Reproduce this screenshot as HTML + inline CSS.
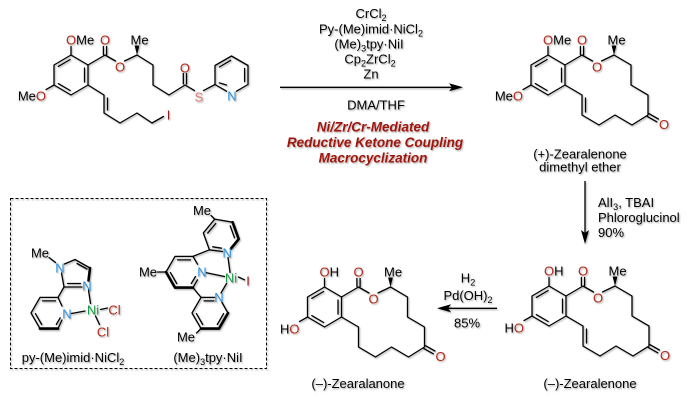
<!DOCTYPE html>
<html>
<head>
<meta charset="utf-8">
<style>
html,body{margin:0;padding:0;background:#fff;}
svg{display:block;}
text{font-family:"Liberation Sans",Arial,sans-serif;font-size:13px;fill:#000;}
.r{fill:#b02a1a;}
.b{fill:#2f8fd8;}
.g{fill:#1f9a4a;}
.s{fill:#de7a78;}
.i{fill:#8c1f1f;}
</style>
</head>
<body>
<svg width="696" height="406" viewBox="0 0 696 406" xmlns="http://www.w3.org/2000/svg">
<defs>
<filter id="sh" x="-2%" y="-2%" width="104%" height="104%">
<feDropShadow dx="1" dy="1.2" stdDeviation="0.7" flood-color="#000" flood-opacity="0.32"/>
</filter>
</defs>
<rect width="696" height="406" fill="#fff"/>
<g filter="url(#sh)">

<!-- ============ STARTING MATERIAL ============ -->
<g transform="translate(71,75)">
 <g stroke="#000" stroke-width="1.3" fill="none" stroke-linecap="round" stroke-linejoin="round">
  <path d="M0,-20 L17,-10 L17,10 L0,20 L-17,10 L-17,-10 Z"/>
  <path d="M13.5,-7 L13.5,7 M-0.85,15.5 L-12.7,8.6 M-12.7,-8.6 L-0.85,-15.5"/>
  <path d="M0,-20 L0,-28.5 M-17,10 L-25,14.6"/>
  <path d="M17,-10 L34,-20 M32.4,-20.5 L32.4,-28.5 M35.6,-20.5 L35.6,-28.5 M34,-20 L44.5,-14 M53.5,-14 L66,-20"/>
  <path d="M66,-20 L82,-10 L82,10 L98,20 L114,10"/>
  <path d="M112.3,9 L112.3,-1.5 M115.5,9 L115.5,-1.5"/>
  <path d="M114,10 L123.5,15.6 M132.5,15.6 L144,9.5"/>
  <path d="M155.5,16.2 L144,9.5 L144,-9.5 L160.5,-19 L177,-9.5 L177,9.5 L165.5,16.2"/>
  <path d="M173.6,-6.6 L173.6,6.6 M148.4,-8 L159.7,-14.7 M148.3,7.9 L155.5,10"/>
  <path d="M17,10 L33,20 L33,38 L49,48 L66,38 L81,48 L92.5,41.5"/>
  <path d="M36.5,23 L36.5,35"/>
 </g>
 <polygon points="66,-20 63.6,-29.5 68.4,-29.5" fill="#000"/>
 <text x="-5" y="-30.5"><tspan class="r">O</tspan>Me</text>
 <text x="34" y="-30.5" text-anchor="middle" class="r">O</text>
 <text x="49" y="-3.3" text-anchor="middle" class="r">O</text>
 <text x="59.5" y="-30.5">Me</text>
 <text x="113.9" y="-2.5" text-anchor="middle" class="r">O</text>
 <text x="128" y="26.6" text-anchor="middle" class="s">S</text>
 <text x="161" y="25.6" text-anchor="middle" class="b">N</text>
 <text x="97.5" y="44.3" text-anchor="middle" class="i">I</text>
 <text x="-25" y="25.6" text-anchor="end">Me<tspan class="r">O</tspan></text>
</g>

<!-- ============ ARROWS ============ -->
<g stroke="#000" stroke-width="1.3" fill="none">
 <path d="M280,87.3 L452,87.3"/>
 <path d="M585,181 L585,233"/>
 <path d="M497,308.3 L448,308.3"/>
</g>
<polygon points="463,87.3 449,83.3 452,87.3 449,91.3" fill="#000"/>
<polygon points="585,244 581,230 585,233 589,230" fill="#000"/>
<polygon points="437,308.3 451,304.3 448,308.3 451,312.3" fill="#000"/>

<text x="371" y="18" text-anchor="middle">CrCl<tspan font-size="9" dy="3">2</tspan></text>
<text x="371" y="33.5" text-anchor="middle">Py-(Me)imid·NiCl<tspan font-size="9" dy="3">2</tspan></text>
<text x="369" y="48.5" text-anchor="middle">(Me)<tspan font-size="9" dy="3">3</tspan><tspan dy="-3">tpy·NiI</tspan></text>
<text x="370" y="63.5" text-anchor="middle">Cp<tspan font-size="9" dy="3">2</tspan><tspan dy="-3">ZrCl</tspan><tspan font-size="9" dy="3">2</tspan></text>
<text x="371" y="78.3" text-anchor="middle">Zn</text>
<text x="376" y="109.5" text-anchor="middle">DMA/THF</text>
<text x="373" y="131.5" text-anchor="middle" style="fill:#a0150f;font-weight:bold;font-style:italic;font-size:13.5px;">Ni/Zr/Cr-Mediated</text>
<text x="375" y="147" text-anchor="middle" style="fill:#a0150f;font-weight:bold;font-style:italic;font-size:13.5px;">Reductive Ketone Coupling</text>
<text x="373" y="162.5" text-anchor="middle" style="fill:#a0150f;font-weight:bold;font-style:italic;font-size:13.5px;">Macrocyclization</text>

<!-- ============ PRODUCT A : dimethyl ether ============ -->
<g transform="translate(548,75)">
 <g stroke="#000" stroke-width="1.3" fill="none" stroke-linecap="round" stroke-linejoin="round">
  <path d="M0,-20 L17,-10 L17,10 L0,20 L-17,10 L-17,-10 Z"/>
  <path d="M13.5,-7 L13.5,7 M-0.85,15.5 L-12.7,8.6 M-12.7,-8.6 L-0.85,-15.5"/>
  <path d="M0,-20 L0,-28.5 M-17,10 L-25,14.6"/>
  <path d="M17,-10 L34,-20 M32.4,-20.5 L32.4,-28.5 M35.6,-20.5 L35.6,-28.5 M34,-20 L44.5,-14 M53.5,-14 L66,-20"/>
  <path d="M66,-20 L83,-10 L83,10 L100,20 L100,40 L84,50 L67,40 L51,50 L34,40 L34,20 L17,10"/>
  <path d="M37.5,23 L37.5,37"/>
  <path d="M100.8,38.6 L110.4,44 M99.2,41.4 L108.8,46.8"/>
 </g>
 <polygon points="66,-20 63.6,-29.5 68.4,-29.5" fill="#000"/>
 <text x="-5" y="-30.5"><tspan class="r">O</tspan>Me</text>
 <text x="34" y="-30.5" text-anchor="middle" class="r">O</text>
 <text x="49" y="-3.3" text-anchor="middle" class="r">O</text>
 <text x="59.5" y="-30.5">Me</text>
 <text x="116" y="53.8" text-anchor="middle" class="r">O</text>
 <text x="-25" y="25.6" text-anchor="end">Me<tspan class="r">O</tspan></text>
</g>
<text x="580" y="158.5" text-anchor="middle">(+)-Zearalenone</text>
<text x="580" y="171.5" text-anchor="middle">dimethyl ether</text>

<text x="598" y="207">AlI<tspan font-size="9" dy="3">3</tspan><tspan dy="-3">, TBAI</tspan></text>
<text x="598" y="222">Phloroglucinol</text>
<text x="598" y="237">90%</text>

<!-- ============ PRODUCT B : zearalenone ============ -->
<g transform="translate(549,306)">
 <g stroke="#000" stroke-width="1.3" fill="none" stroke-linecap="round" stroke-linejoin="round">
  <path d="M0,-20 L17,-10 L17,10 L0,20 L-17,10 L-17,-10 Z"/>
  <path d="M13.5,-7 L13.5,7 M-0.85,15.5 L-12.7,8.6 M-12.7,-8.6 L-0.85,-15.5"/>
  <path d="M0,-20 L0,-28.5 M-17,10 L-25,14.6"/>
  <path d="M17,-10 L34,-20 M32.4,-20.5 L32.4,-28.5 M35.6,-20.5 L35.6,-28.5 M34,-20 L44.5,-14 M53.5,-14 L66,-20"/>
  <path d="M66,-20 L83,-10 L83,10 L100,20 L100,40 L84,50 L67,40 L51,50 L34,40 L34,20 L17,10"/>
  <path d="M37.5,23 L37.5,37"/>
  <path d="M100.8,38.6 L110.4,44 M99.2,41.4 L108.8,46.8"/>
 </g>
 <polygon points="66,-20 63.6,-29.5 68.4,-29.5" fill="#000"/>
 <text x="-5" y="-30.5"><tspan class="r">O</tspan>H</text>
 <text x="34" y="-30.5" text-anchor="middle" class="r">O</text>
 <text x="49" y="-3.3" text-anchor="middle" class="r">O</text>
 <text x="59.5" y="-30.5">Me</text>
 <text x="116" y="53.8" text-anchor="middle" class="r">O</text>
 <text x="-25" y="26.6" text-anchor="end">H<tspan class="r">O</tspan></text>
</g>
<text x="590" y="388" text-anchor="middle">(–)-Zearalenone</text>

<text x="468" y="282.5" text-anchor="middle">H<tspan font-size="9" dy="3">2</tspan></text>
<text x="468" y="300" text-anchor="middle">Pd(OH)<tspan font-size="9" dy="3">2</tspan></text>
<text x="467" y="327.5" text-anchor="middle">85%</text>

<!-- ============ PRODUCT C : zearalanone ============ -->
<g transform="translate(324.5,307)">
 <g stroke="#000" stroke-width="1.3" fill="none" stroke-linecap="round" stroke-linejoin="round">
  <path d="M0,-20 L17,-10 L17,10 L0,20 L-17,10 L-17,-10 Z"/>
  <path d="M13.5,-7 L13.5,7 M-0.85,15.5 L-12.7,8.6 M-12.7,-8.6 L-0.85,-15.5"/>
  <path d="M0,-20 L0,-28.5 M-17,10 L-25,14.6"/>
  <path d="M17,-10 L34,-20 M32.4,-20.5 L32.4,-28.5 M35.6,-20.5 L35.6,-28.5 M34,-20 L44.5,-14 M53.5,-14 L66,-20"/>
  <path d="M66,-20 L83,-10 L83,10 L100,20 L100,40 L84,50 L67,40 L51,50 L34,40 L34,20 L17,10"/>
  <path d="M100.8,38.6 L110.4,44 M99.2,41.4 L108.8,46.8"/>
 </g>
 <polygon points="66,-20 63.6,-29.5 68.4,-29.5" fill="#000"/>
 <text x="-5" y="-30.5"><tspan class="r">O</tspan>H</text>
 <text x="34" y="-30.5" text-anchor="middle" class="r">O</text>
 <text x="49" y="-3.3" text-anchor="middle" class="r">O</text>
 <text x="59.5" y="-30.5">Me</text>
 <text x="116" y="53.8" text-anchor="middle" class="r">O</text>
 <text x="-25" y="26.6" text-anchor="end">H<tspan class="r">O</tspan></text>
</g>
<text x="358" y="388" text-anchor="middle">(–)-Zearalanone</text>

<!-- ============ DASHED BOX ============ -->
<rect x="10.5" y="198.5" width="256" height="170" fill="none" stroke="#000" stroke-width="1" stroke-dasharray="3 2"/>

<!-- complex 1: py-(Me)imid NiCl2 -->
<g stroke="#000" stroke-width="1.3" fill="none" stroke-linecap="round" stroke-linejoin="round">
 <path d="M49,257.5 L55.5,262.5 M64.5,264 L75,259.5 L90,268"/>
 <path d="M77,263.5 L87,269"/>
 <path d="M90,268 L88.5,280.5" stroke-width="2.6"/>
 <path d="M82,287 L64,287 L61.5,273 M67.5,283.5 L80.5,283.5"/>
 <path d="M64,287 L58,297.4"/>
 <path d="M62,306 L58,297.4 L40,297.4 L31,313 L40,328.6 M58,328.6 L62,320"/>
 <path d="M40,328.6 L58,328.6" stroke-width="2.6"/>
 <path d="M42.5,300.9 L55.5,300.9 M35.4,313.6 L41.7,324.5 M56.3,324.5 L60.2,317.8"/>
 <path d="M71.5,313.5 L85,311 M88.5,290 L90.5,303.5 M100.5,309.5 L107.5,308 M95.5,316 L99.5,324.5"/>
</g>
<text x="40" y="257.5" text-anchor="middle">Me</text>
<text x="60" y="272.6" text-anchor="middle" class="b">N</text>
<text x="87" y="290.6" text-anchor="middle" class="b">N</text>
<text x="67" y="318.6" text-anchor="middle" class="b">N</text>
<text x="93" y="314.6" text-anchor="middle" class="g">Ni</text>
<text x="114.5" y="314.6" text-anchor="middle" class="r">Cl</text>
<text x="103" y="336.6" text-anchor="middle" class="r">Cl</text>
<text x="73" y="362" text-anchor="middle">py-(Me)imid·NiCl<tspan font-size="9" dy="3">2</tspan></text>

<!-- complex 2: (Me)3tpy NiI -->
<g stroke="#000" stroke-width="1.3" fill="none" stroke-linecap="round" stroke-linejoin="round">
 <path d="M197.5,264.2 L193,256.4 L175,256.4 L166,272 M193,287.6 L197.5,279.8"/>
 <path d="M166,272 L175,287.6 L193,287.6" stroke-width="2.6"/>
 <path d="M177.5,259.9 L190.5,259.9 M170.4,272.6 L176.7,283.5 M191.3,283.5 L195.5,276.5"/>
 <path d="M157.5,272 L166,272"/>
 <path d="M193,256.4 L209.4,249.8"/>
 <path d="M222.5,251.5 L209.4,249.8 L203.3,232.9 L214.8,219.1 L232.6,222.2"/>
 <path d="M232.6,222.2 L238.7,239.1 L231,248.5" stroke-width="2.6"/>
 <path d="M207.7,233.1 L215.8,223.4 M230.2,225.9 L234.5,237.8 M212.7,246.8 L221.5,248.2"/>
 <path d="M214.8,219.1 L211,215.5"/>
 <path d="M193,287.6 L201,297.4"/>
 <path d="M214.5,297.4 L201,297.4 L192,313 L201,328.6 M228,313 L222,302.5"/>
 <path d="M201,328.6 L219,328.6 L228,313" stroke-width="2.6"/>
 <path d="M204,300.9 L214,300.9 M223.6,313.6 L217.3,324.5 M202.7,324.5 L196.4,313.6"/>
 <path d="M201,328.6 L196.5,333"/>
 <path d="M206.5,272.8 L224.5,276.5 M228,257.5 L230,272.5 M221,293 L226.5,283.5 M238.5,277 L244.5,279.8"/>
</g>
<text x="157" y="276.6" text-anchor="end">Me</text>
<text x="202" y="276.6" text-anchor="middle" class="b">N</text>
<text x="227.2" y="257.5" text-anchor="middle" class="b">N</text>
<text x="219" y="302" text-anchor="middle" class="b">N</text>
<text x="231" y="282.6" text-anchor="middle" class="g">Ni</text>
<text x="248" y="285.6" text-anchor="middle" class="i">I</text>
<text x="202" y="215" text-anchor="middle">Me</text>
<text x="186" y="341.6" text-anchor="middle">Me</text>
<text x="208" y="362" text-anchor="middle">(Me)<tspan font-size="9" dy="3">3</tspan><tspan dy="-3">tpy·NiI</tspan></text>

</g>
</svg>
</body>
</html>
